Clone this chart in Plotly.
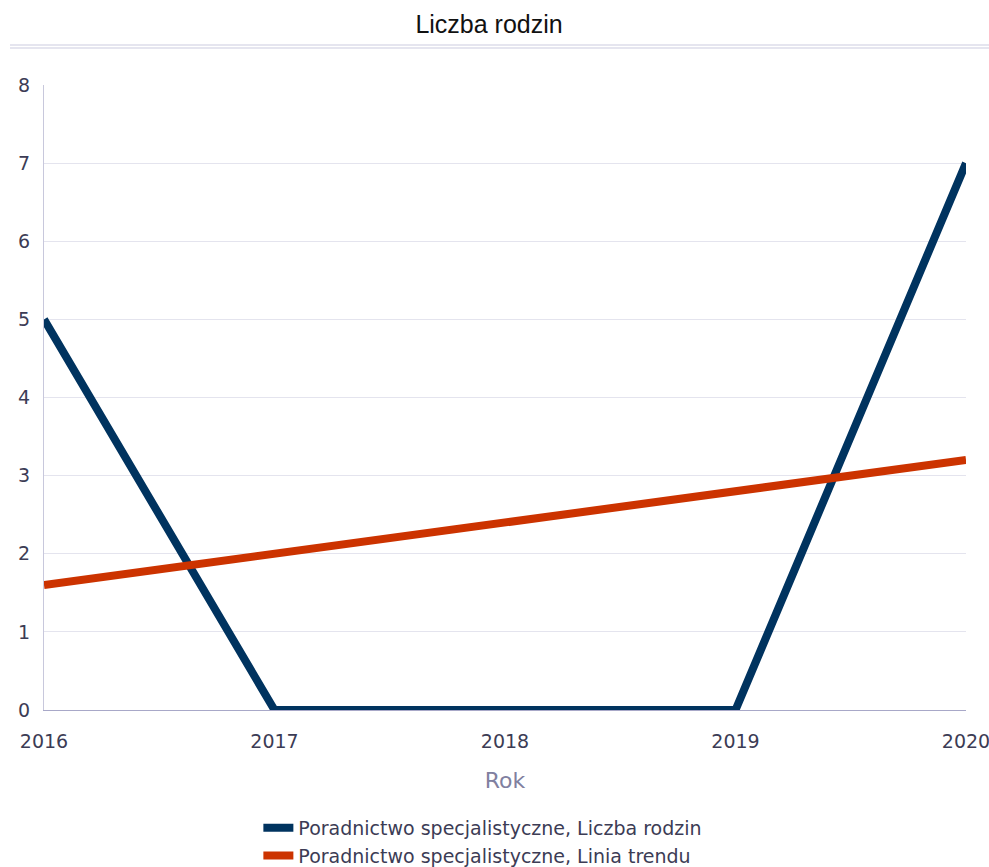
import plotly.graph_objects as go

years = [2016, 2017, 2018, 2019, 2020]
liczba_rodzin = [5, 0, 0, 0, 7]
linia_trendu = [1.6, 2.0, 2.4, 2.8, 3.2]
y_ticks = [0, 1, 2, 3, 4, 5, 6, 7, 8]

name1 = "Poradnictwo specjalistyczne, Liczba rodzin"
name2 = "Poradnictwo specjalistyczne, Linia trendu"

fig = go.Figure()
fig.add_trace(go.Scatter(x=years, y=liczba_rodzin, mode="lines", name=name1,
                         line=dict(color="#00335f", width=8)))
fig.add_trace(go.Scatter(x=years, y=linia_trendu, mode="lines", name=name2,
                         line=dict(color="#cc3300", width=8)))

font_main = "DejaVu Sans, Verdana, sans-serif"
plot_h = 625.0

fig.update_layout(
    width=989, height=867,
    margin=dict(l=44, r=23, t=85, b=157, autoexpand=False),
    paper_bgcolor="white", plot_bgcolor="white",
    title=dict(text="Liczba rodzin", x=0.4945, xanchor="center", y=0.972, yanchor="middle",
               xref="container", yref="container",
               font=dict(family="Liberation Sans, Arial, sans-serif", size=25, color="#111111")),
    xaxis=dict(range=[2016, 2020], tickvals=years, ticktext=[str(y) for y in years],
               showgrid=False, showline=True, linecolor="#a8a8c8", linewidth=1,
               ticks="", tickfont=dict(family=font_main, size=19, color="#3c3c55"),
               ticklabelstandoff=14, ticklabeloverflow="allow", automargin=False,
               title=dict(text="Rok", font=dict(family=font_main, size=22, color="#8080a0"),
                          standoff=21),
               zeroline=False),
    yaxis=dict(range=[0, 8], tickvals=y_ticks, showgrid=True, gridcolor="#e4e4ee",
               showline=True, linecolor="#c8c8dc", linewidth=1, ticks="",
               tickfont=dict(family=font_main, size=19, color="#3c3c55"),
               ticklabelstandoff=9, automargin=False, zeroline=False),
    legend=dict(orientation="v", x=0.476, xanchor="center", y=-(809 - 710) / plot_h,
                yanchor="top",
                font=dict(family=font_main, size=19, color="#3c3c55"),
                tracegroupgap=0, itemwidth=30, bgcolor="rgba(0,0,0,0)"),
    showlegend=True,
    shapes=[
        dict(type="line", xref="paper", yref="paper", x0=-0.0369, x1=1.03,
             y0=1.0 + (85 - 45) / plot_h, y1=1.0 + (85 - 45) / plot_h,
             line=dict(color="#dcdcea", width=1.5)),
        dict(type="line", xref="paper", yref="paper", x0=-0.0369, x1=1.03,
             y0=1.0 + (85 - 48) / plot_h, y1=1.0 + (85 - 48) / plot_h,
             line=dict(color="#dcdcea", width=1.5)),
    ],
)

fig.write_html("out.html", config={"displayModeBar": False},
               post_script="document.body.style.margin='0px';document.body.style.overflow='hidden';")
